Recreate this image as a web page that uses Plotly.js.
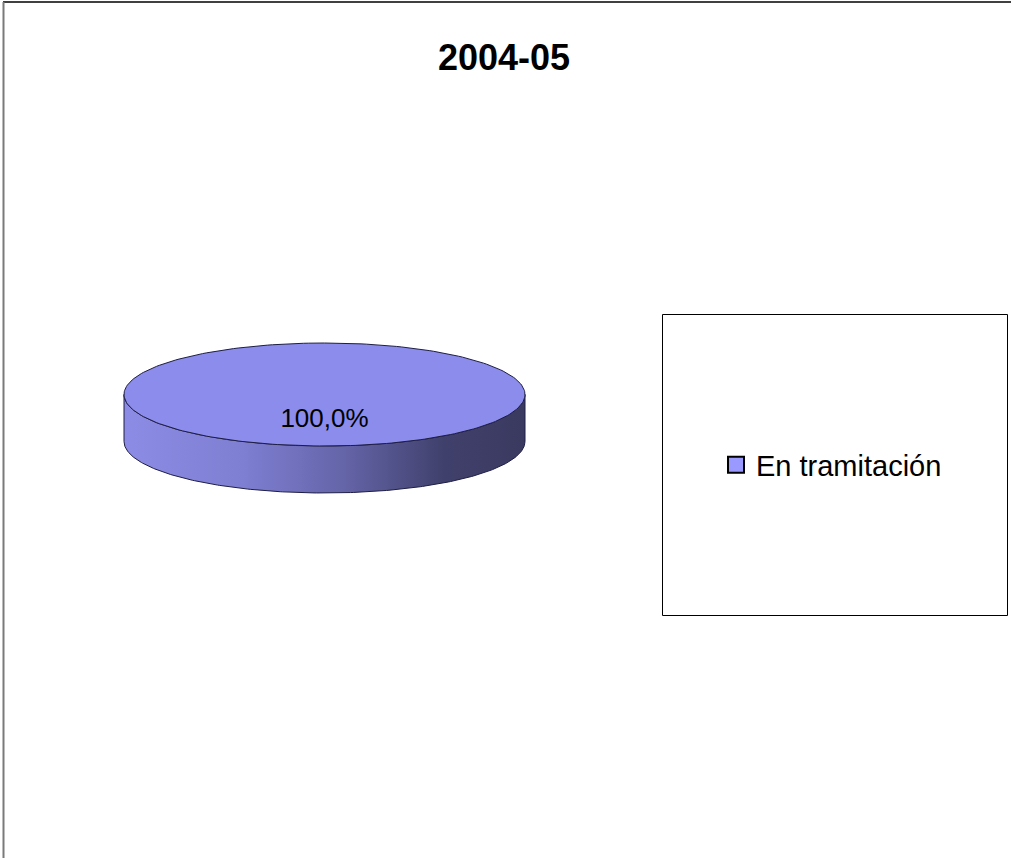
<!DOCTYPE html>
<html>
<head>
<meta charset="utf-8">
<script src="https://cdn.plot.ly/plotly-3.0.1.min.js"></script>
<style>html,body{margin:0;padding:0;background:#fff;}#chart{width:1011px;height:858px;}</style>
</head>
<body>
<div id="chart"></div>
<script>
// ---- data ----
const chartTitle = '2004-05';
const categories = ['En tramitación'];
const values = [100];
const topColors = ['#8b8cec'];
const legendColors = ['#9999ff'];

// ---- geometry (pixel space; axes map 1:1 to pixels) ----
const W = 1011, H = 858;
const cx = 324.5, cy = 394.5, rx = 200.5, ry = 51.5, depth = 47;
const N = 240;

function pt(theta, dy) { // theta: 0 at 12 o'clock, clockwise
  return [cx + rx * Math.sin(theta), cy - ry * Math.cos(theta) + (dy || 0)];
}

const total = values.reduce((a, b) => a + b, 0);
const traces = [];
let cum = 0;
const labelX = [], labelY = [], labelT = [];
values.forEach((v, i) => {
  const frac = v / total;
  const a0 = cum * 2 * Math.PI, a1 = (cum + frac) * 2 * Math.PI;
  cum += frac;
  // side band: front part of the arc (between pi/2 and 3pi/2)
  const s0 = Math.max(a0, Math.PI / 2), s1 = Math.min(a1, 3 * Math.PI / 2);
  if (s1 > s0) {
    const sx = [], sy = [];
    for (let k = 0; k <= N; k++) { const t = s0 + (s1 - s0) * k / N; const p = pt(t, 0); sx.push(p[0]); sy.push(p[1]); }
    for (let k = N; k >= 0; k--) { const t = s0 + (s1 - s0) * k / N; const p = pt(t, depth); sx.push(p[0]); sy.push(p[1]); }
    sx.push(sx[0]); sy.push(sy[0]);
    traces.push({
      type: 'scatter', mode: 'lines', x: sx, y: sy, fill: 'toself',
      fillgradient: { type: 'horizontal', colorscale: [[0, '#8c8ce6'], [0.3, '#7e7ed2'], [0.55, '#6464a8'], [0.8, '#40406c'], [1, '#3a3a60']] },
      line: { color: '#1e1e44', width: 1 }, showlegend: false, hoverinfo: 'skip'
    });
  }
  // top face
  const tx = [], ty = [];
  if (frac < 1) { tx.push(cx); ty.push(cy); }
  for (let k = 0; k <= N; k++) { const t = a0 + (a1 - a0) * k / N; const p = pt(t, 0); tx.push(p[0]); ty.push(p[1]); }
  if (frac < 1) { tx.push(cx); ty.push(cy); }
  traces.push({
    type: 'scatter', mode: 'lines', x: tx, y: ty, fill: 'toself', fillcolor: topColors[i],
    line: { color: '#1e1e44', width: 1 }, showlegend: false, hoverinfo: 'skip'
  });
  const mid = (a0 + a1) / 2;
  labelX.push(cx + 0.5 * rx * Math.sin(mid));
  labelY.push(cy - 0.5 * ry * Math.cos(mid));
  labelT.push((frac * 100).toFixed(1).replace('.', ',') + '%');
});

traces.push({
  type: 'scatter', mode: 'text', x: labelX, y: labelY, text: labelT,
  textposition: 'middle center', textfont: { family: 'Liberation Sans, Arial, sans-serif', size: 26, color: '#000' },
  showlegend: false, hoverinfo: 'skip'
});

categories.forEach((c, i) => {
  traces.push({
    type: 'scatter', mode: 'markers', x: [null], y: [null], name: c,
    marker: { symbol: 'square', size: 17, color: legendColors[i], line: { color: '#000', width: 2 } },
    showlegend: true, hoverinfo: 'skip'
  });
});

const layout = {
  width: W, height: H,
  margin: { l: 0, r: 0, t: 0, b: 0 },
  paper_bgcolor: '#fff', plot_bgcolor: '#fff',
  font: { family: 'Liberation Sans, Arial, sans-serif', color: '#000' },
  title: {
    text: '<b>' + chartTitle + '</b>', x: 504 / W, xref: 'paper', xanchor: 'center',
    y: 1 - 57 / H, yref: 'paper', yanchor: 'middle',
    font: { family: 'Liberation Sans, Arial, sans-serif', size: 36, color: '#000' }
  },
  xaxis: { range: [0, W], visible: false, fixedrange: true },
  yaxis: { range: [H, 0], visible: false, fixedrange: true },
  showlegend: true,
  legend: {
    x: 716 / W, xanchor: 'left', y: 1 - 465 / H, yanchor: 'middle',
    bgcolor: 'rgba(0,0,0,0)', borderwidth: 0,
    font: { family: 'Liberation Sans, Arial, sans-serif', size: 29, color: '#000' },
    itemwidth: 30
  },
  shapes: [
    { type: 'line', xref: 'x', yref: 'y', x0: 3, y0: 2, x1: W, y1: 2, line: { color: '#000', width: 1.5 } },
    { type: 'line', xref: 'x', yref: 'y', x0: 3.5, y0: 2, x1: 3.5, y1: H, line: { color: '#7a7a7a', width: 2 } },
    { type: 'rect', xref: 'x', yref: 'y', x0: 662.5, y0: 314.5, x1: 1007.5, y1: 615.5, line: { color: '#000', width: 1 }, fillcolor: 'rgba(0,0,0,0)' }
  ]
};

Plotly.newPlot('chart', traces, layout, { staticPlot: true, displayModeBar: false });
</script>
</body>
</html>
